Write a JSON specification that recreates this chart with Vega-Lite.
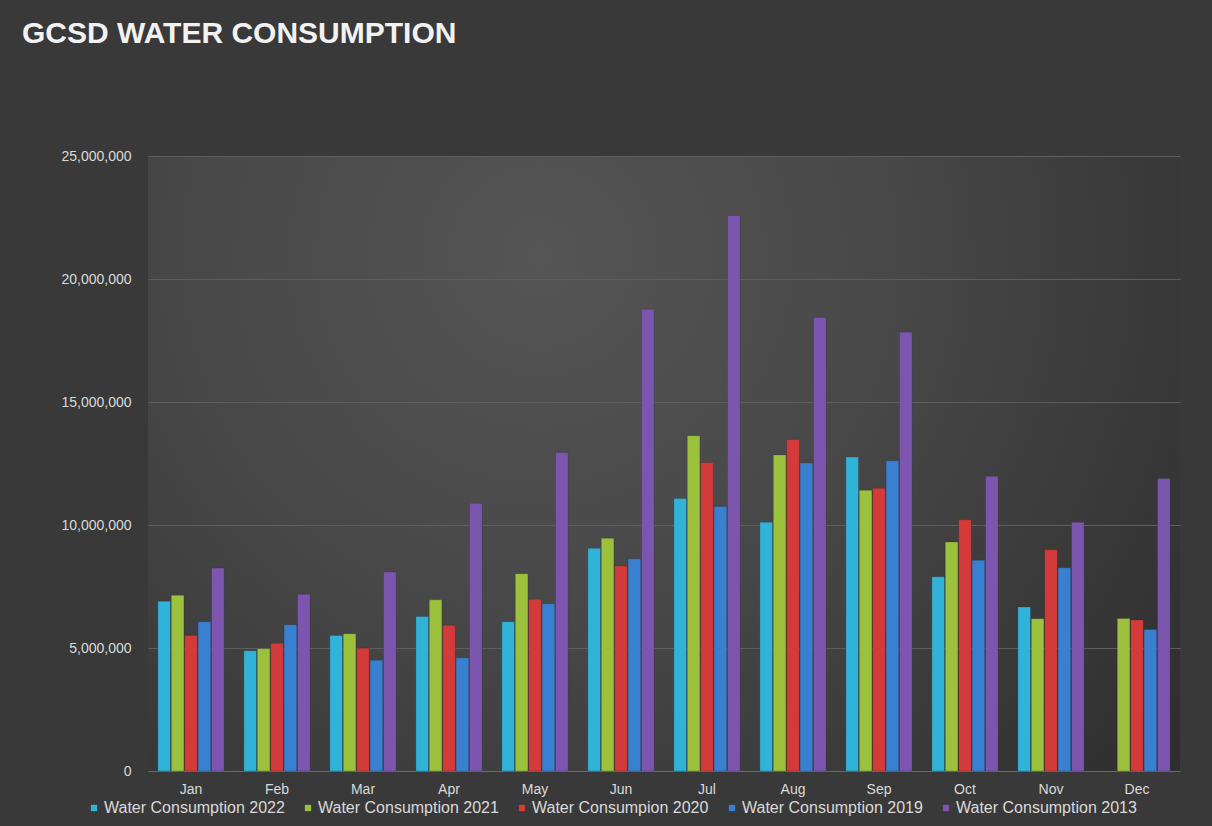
{
  "$schema": "https://vega.github.io/schema/vega-lite/v6.json",
  "autosize": {"type": "none"},
  "width": 1032,
  "height": 615,
  "padding": {"left": 148, "top": 156, "right": 32, "bottom": 55},
  "background": "#393939",
  "title": {
    "text": "GCSD WATER CONSUMPTION",
    "anchor": "start",
    "frame": "group",
    "dx": -126,
    "offset": 76,
    "baseline": "alphabetic",
    "font": "Liberation Sans",
    "fontSize": 30,
    "fontWeight": "bold",
    "color": "#f2f2f2"
  },
  "config": {
    "view": {
      "stroke": null,
      "fill": {
        "gradient": "radial",
        "x1": 0.38, "y1": 0.3, "x2": 0.38, "y2": 0.3,
        "r1": 0, "r2": 0.8,
        "stops": [
          {"offset": 0, "color": "#555555"},
          {"offset": 0.45, "color": "#474747"},
          {"offset": 1, "color": "#2d2d2d"}
        ]
      }
    },
    "font": "Liberation Sans"
  },
  "data": {
    "values": [
      {"month": "Jan", "series": "Water Consumption 2022", "value": 6900000},
      {"month": "Jan", "series": "Water Consumption 2021", "value": 7140000},
      {"month": "Jan", "series": "Water Consumpion 2020", "value": 5510000},
      {"month": "Jan", "series": "Water Consumption 2019", "value": 6070000},
      {"month": "Jan", "series": "Water Consumption 2013", "value": 8250000},
      {"month": "Feb", "series": "Water Consumption 2022", "value": 4890000},
      {"month": "Feb", "series": "Water Consumption 2021", "value": 4970000},
      {"month": "Feb", "series": "Water Consumpion 2020", "value": 5190000},
      {"month": "Feb", "series": "Water Consumption 2019", "value": 5950000},
      {"month": "Feb", "series": "Water Consumption 2013", "value": 7180000},
      {"month": "Mar", "series": "Water Consumption 2022", "value": 5510000},
      {"month": "Mar", "series": "Water Consumption 2021", "value": 5580000},
      {"month": "Mar", "series": "Water Consumpion 2020", "value": 4990000},
      {"month": "Mar", "series": "Water Consumption 2019", "value": 4500000},
      {"month": "Mar", "series": "Water Consumption 2013", "value": 8090000},
      {"month": "Apr", "series": "Water Consumption 2022", "value": 6280000},
      {"month": "Apr", "series": "Water Consumption 2021", "value": 6960000},
      {"month": "Apr", "series": "Water Consumpion 2020", "value": 5920000},
      {"month": "Apr", "series": "Water Consumption 2019", "value": 4600000},
      {"month": "Apr", "series": "Water Consumption 2013", "value": 10880000},
      {"month": "May", "series": "Water Consumption 2022", "value": 6070000},
      {"month": "May", "series": "Water Consumption 2021", "value": 8020000},
      {"month": "May", "series": "Water Consumpion 2020", "value": 6980000},
      {"month": "May", "series": "Water Consumption 2019", "value": 6800000},
      {"month": "May", "series": "Water Consumption 2013", "value": 12950000},
      {"month": "Jun", "series": "Water Consumption 2022", "value": 9050000},
      {"month": "Jun", "series": "Water Consumption 2021", "value": 9460000},
      {"month": "Jun", "series": "Water Consumpion 2020", "value": 8330000},
      {"month": "Jun", "series": "Water Consumption 2019", "value": 8630000},
      {"month": "Jun", "series": "Water Consumption 2013", "value": 18770000},
      {"month": "Jul", "series": "Water Consumption 2022", "value": 11080000},
      {"month": "Jul", "series": "Water Consumption 2021", "value": 13630000},
      {"month": "Jul", "series": "Water Consumpion 2020", "value": 12540000},
      {"month": "Jul", "series": "Water Consumption 2019", "value": 10750000},
      {"month": "Jul", "series": "Water Consumption 2013", "value": 22580000},
      {"month": "Aug", "series": "Water Consumption 2022", "value": 10110000},
      {"month": "Aug", "series": "Water Consumption 2021", "value": 12850000},
      {"month": "Aug", "series": "Water Consumpion 2020", "value": 13480000},
      {"month": "Aug", "series": "Water Consumption 2019", "value": 12520000},
      {"month": "Aug", "series": "Water Consumption 2013", "value": 18440000},
      {"month": "Sep", "series": "Water Consumption 2022", "value": 12760000},
      {"month": "Sep", "series": "Water Consumption 2021", "value": 11410000},
      {"month": "Sep", "series": "Water Consumpion 2020", "value": 11490000},
      {"month": "Sep", "series": "Water Consumption 2019", "value": 12610000},
      {"month": "Sep", "series": "Water Consumption 2013", "value": 17840000},
      {"month": "Oct", "series": "Water Consumption 2022", "value": 7900000},
      {"month": "Oct", "series": "Water Consumption 2021", "value": 9310000},
      {"month": "Oct", "series": "Water Consumpion 2020", "value": 10210000},
      {"month": "Oct", "series": "Water Consumption 2019", "value": 8570000},
      {"month": "Oct", "series": "Water Consumption 2013", "value": 11980000},
      {"month": "Nov", "series": "Water Consumption 2022", "value": 6670000},
      {"month": "Nov", "series": "Water Consumption 2021", "value": 6190000},
      {"month": "Nov", "series": "Water Consumpion 2020", "value": 8990000},
      {"month": "Nov", "series": "Water Consumption 2019", "value": 8260000},
      {"month": "Nov", "series": "Water Consumption 2013", "value": 10110000},
      {"month": "Dec", "series": "Water Consumption 2021", "value": 6200000},
      {"month": "Dec", "series": "Water Consumpion 2020", "value": 6140000},
      {"month": "Dec", "series": "Water Consumption 2019", "value": 5750000},
      {"month": "Dec", "series": "Water Consumption 2013", "value": 11890000}
    ]
  },
  "mark": {"type": "bar", "stroke": "#202020", "strokeOpacity": 0.35, "strokeWidth": 0.6},
  "encoding": {
    "x": {
      "field": "month",
      "type": "nominal",
      "sort": ["Jan", "Feb", "Mar", "Apr", "May", "Jun", "Jul", "Aug", "Sep", "Oct", "Nov", "Dec"],
      "scale": {"paddingInner": 0.23, "paddingOuter": 0.115},
      "axis": {
        "title": null,
        "labelAngle": 0,
        "labelFontSize": 14,
        "labelColor": "#d9d9d9",
        "labelPadding": 11,
        "ticks": false,
        "domainColor": "#6a6a6a",
        "domainWidth": 1,
        "grid": false
      }
    },
    "xOffset": {
      "field": "series",
      "type": "nominal",
      "sort": ["Water Consumption 2022", "Water Consumption 2021", "Water Consumpion 2020", "Water Consumption 2019", "Water Consumption 2013"],
      "scale": {"paddingInner": 0.06}
    },
    "y": {
      "field": "value",
      "type": "quantitative",
      "scale": {"domain": [0, 25000000]},
      "axis": {
        "title": null,
        "values": [0, 5000000, 10000000, 15000000, 20000000, 25000000],
        "format": ",d",
        "labelFontSize": 14,
        "labelColor": "#d9d9d9",
        "labelPadding": 17,
        "ticks": false,
        "domain": false,
        "gridColor": "#5e5e5e",
        "gridWidth": 1
      }
    },
    "color": {
      "field": "series",
      "type": "nominal",
      "sort": ["Water Consumption 2022", "Water Consumption 2021", "Water Consumpion 2020", "Water Consumption 2019", "Water Consumption 2013"],
      "scale": {
        "domain": ["Water Consumption 2022", "Water Consumption 2021", "Water Consumpion 2020", "Water Consumption 2019", "Water Consumption 2013"],
        "range": ["#31b3d8", "#9cc23d", "#d33b3a", "#3a80d0", "#7c56ae"]
      },
      "legend": {
        "title": null,
        "orient": "none",
        "direction": "horizontal",
        "legendX": -62,
        "legendY": 644,
        "symbolType": "square",
        "symbolSize": 40,
        "symbolStrokeWidth": 0,
        "labelFontSize": 16,
        "labelLimit": 400,
        "labelColor": "#d9d9d9",
        "labelOffset": 2,
        "columnPadding": 15
      }
    }
  }
}
